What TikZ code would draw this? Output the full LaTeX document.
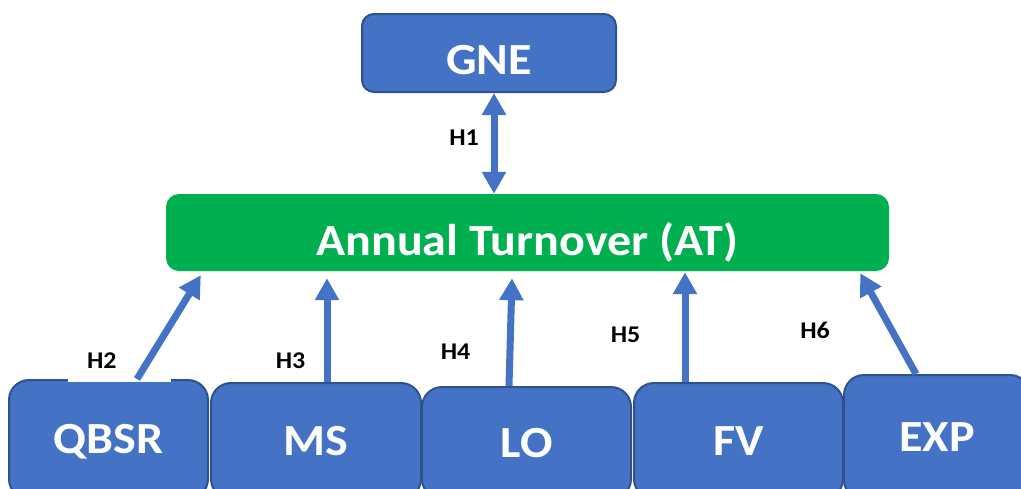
\documentclass[tikz,border=0pt]{standalone}
\usepackage{fontspec}
\setmainfont{Carlito}[FakeStretch=1.08]
\usetikzlibrary{arrows.meta,calc}

\definecolor{boxblue}{HTML}{4472C4}
\definecolor{boxedge}{HTML}{2F528F}
\definecolor{atgreen}{HTML}{00B050}

\begin{document}
\begin{tikzpicture}[x=1pt,y=-1pt,
    >={Triangle[length=22pt,width=23pt]},
    varbox/.style={draw=boxedge,line width=2pt,fill=boxblue,rounded corners=20pt,
        text=white,font=\fontsize{44.5}{44.5}\selectfont\bfseries,
        text height=28pt,text depth=0pt,inner sep=0pt},
    hyp/.style={font=\fontsize{24}{24}\selectfont\bfseries,inner sep=0pt},
    link/.style={->,boxblue,line width=7pt}]
    \useasboundingbox (0,0) rectangle (1021,488);
    \clip (0,0) rectangle (1021,488);

    % === Top: outcome and mediator ===
    \node[varbox,rounded corners=12pt,minimum width=254pt,minimum height=78pt,
        text height=42pt] (gne) at (489,53) {GNE};
    \node[fill=atgreen,rounded corners=13pt,text=white,
        font=\fontsize{44.5}{44.5}\selectfont\bfseries,inner sep=0pt,
        minimum width=723pt,minimum height=77pt,text height=45pt,text depth=0pt]
        (turnover) at (527.5,232.5) {Annual Turnover (AT)};

    % === Bottom: predictors (cut by the lower edge) ===
    \node[varbox,minimum width=199pt,minimum height=119pt] (qbsr) at (108.5,439.5) {QBSR};
    \node[varbox,minimum width=210pt,minimum height=116pt] (ms) at (316,441) {MS};
    \node[varbox,minimum width=209pt,minimum height=112pt] (lo) at (526.5,443) {LO};
    \node[varbox,minimum width=209pt,minimum height=116pt] (fv) at (738.5,441) {FV};
    \node[varbox,minimum width=186pt,minimum height=125pt] (exp) at (937,437.5) {EXP};

    % Hypothesis labels
    \node[hyp] (h1) at (464,137.5) {H1};
    \node[hyp,fill=white,minimum width=103pt,minimum height=42pt,inner xsep=19pt,
        text width=65pt,align=left] (h2) at (119.5,361) {H2};
    \node[hyp] (h3) at (290.5,361) {H3};
    \node[hyp] (h4) at (455.5,351.5) {H4};
    \node[hyp] (h5) at (625.5,335) {H5};
    \node[hyp] (h6) at (815,330) {H6};

    % Paths
    \draw[link,<->] ($(gne.south)+(5,0)$) -- ($(gne.south |- turnover.north)+(5,0)$);
    \draw[link] ($(qbsr.north)+(28.5,0)$) -- ($(turnover.south west)+(35,4)$);
    \draw[link] ($(ms.north)+(11,0)$) -- ($(ms.north |- turnover.south)+(11,7)$);
    \draw[link] ($(lo.north)+(-17.5,0)$) -- ($(turnover.south)+(-15.5,7)$);
    \draw[link] ($(fv.north)+(-53.5,0)$) -- ($(fv.north |- turnover.south)+(-53.5,1)$);
    \draw[link] ($(exp.north)+(-21,0)$) -- ($(turnover.south east)+(-29,2)$);
\end{tikzpicture}
\end{document}
